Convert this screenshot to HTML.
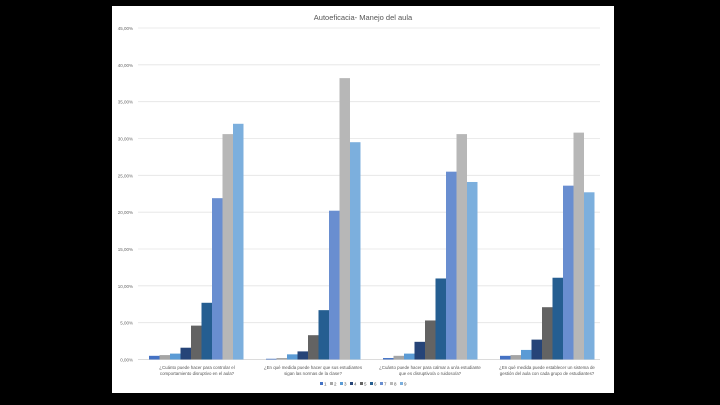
<!DOCTYPE html>
<html><head><meta charset="utf-8"><style>
html,body{margin:0;padding:0;background:#000;width:720px;height:405px;overflow:hidden}
svg{display:block}
text{font-family:"Liberation Sans",sans-serif}
</style></head><body>
<svg width="720" height="405" xmlns="http://www.w3.org/2000/svg" id="s">
<rect x="0" y="0" width="720" height="405" fill="#000"/>
<rect x="112" y="6" width="502" height="387" fill="#fff"/>
<text x="363" y="20" font-size="7.5" fill="#555" text-anchor="middle">Autoeficacia- Manejo del aula</text>
<g stroke="#e4e4e4" stroke-width="0.8">
<line x1="138" x2="600" y1="28" y2="28"/><line x1="138" x2="600" y1="64.8" y2="64.8"/>
<line x1="138" x2="600" y1="101.7" y2="101.7"/><line x1="138" x2="600" y1="138.5" y2="138.5"/>
<line x1="138" x2="600" y1="175.3" y2="175.3"/><line x1="138" x2="600" y1="212.2" y2="212.2"/>
<line x1="138" x2="600" y1="249" y2="249"/><line x1="138" x2="600" y1="285.8" y2="285.8"/>
<line x1="138" x2="600" y1="322.7" y2="322.7"/>
</g>
<line x1="138" x2="600" y1="359.5" y2="359.5" stroke="#d0d0d0" stroke-width="0.8"/>
<g font-size="4.5" fill="#666" text-anchor="end">
<text x="133" y="30">45,00%</text><text x="133" y="66.8">40,00%</text>
<text x="133" y="103.7">35,00%</text><text x="133" y="140.5">30,00%</text>
<text x="133" y="177.3">25,00%</text><text x="133" y="214.2">20,00%</text>
<text x="133" y="251">15,00%</text><text x="133" y="287.8">10,00%</text>
<text x="133" y="324.7">5,00%</text><text x="133" y="361.5">0,00%</text>
</g>
<g id="bars"></g>
<g font-size="4.4" fill="#555" text-anchor="middle">
<text x="197" y="369">¿Cuánto puede hacer para controlar el</text>
<text x="197" y="375">comportamiento disruptivo en el aula?</text>
<text x="313" y="369">¿En qué medida puede hacer que sus estudiantes</text>
<text x="313" y="375">sigan las normas de la clase?</text>
<text x="430" y="369">¿Cuánto puede hacer para calmar a un/a estudiante</text>
<text x="430" y="375">que es disruptivo/a o ruidoso/a?</text>
<text x="547" y="369">¿En qué medida puede establecer un sistema de</text>
<text x="547" y="375">gestión del aula con cada grupo de estudiantes?</text>
</g>
<g id="leg" font-size="4.5" fill="#555"></g>
<script>
var vals=[[0.5,0.6,0.8,1.6,4.6,7.7,21.9,30.6,32.0],[0.1,0.2,0.7,1.1,3.3,6.7,20.2,38.2,29.5],[0.2,0.5,0.8,2.4,5.3,11.0,25.5,30.6,24.1],[0.5,0.6,1.3,2.7,7.1,11.1,23.6,30.8,22.7]];
var cols=["#4472c4","#a5a5a5","#5b9bd5","#264478","#636363","#255e91","#698ed0","#b7b7b7","#7cafdd"];
var ns="http://www.w3.org/2000/svg",g=document.getElementById("bars");
for(var i=0;i<4;i++)for(var j=0;j<9;j++){var r=document.createElementNS(ns,"rect");var h=vals[i][j]*7.366;r.setAttribute("x",149+i*117+j*10.5);r.setAttribute("y",359.5-h);r.setAttribute("width",10.5);r.setAttribute("height",h);r.setAttribute("fill",cols[j]);g.appendChild(r);}
var l=document.getElementById("leg");
for(var k=0;k<9;k++){var x=320+k*10;var r=document.createElementNS(ns,"rect");r.setAttribute("x",x);r.setAttribute("y",382);r.setAttribute("width",3);r.setAttribute("height",3);r.setAttribute("fill",cols[k]);l.appendChild(r);var t=document.createElementNS(ns,"text");t.setAttribute("x",x+4);t.setAttribute("y",385.5);t.textContent=String(k+1);l.appendChild(t);}
</script>
</svg>
</body></html>
